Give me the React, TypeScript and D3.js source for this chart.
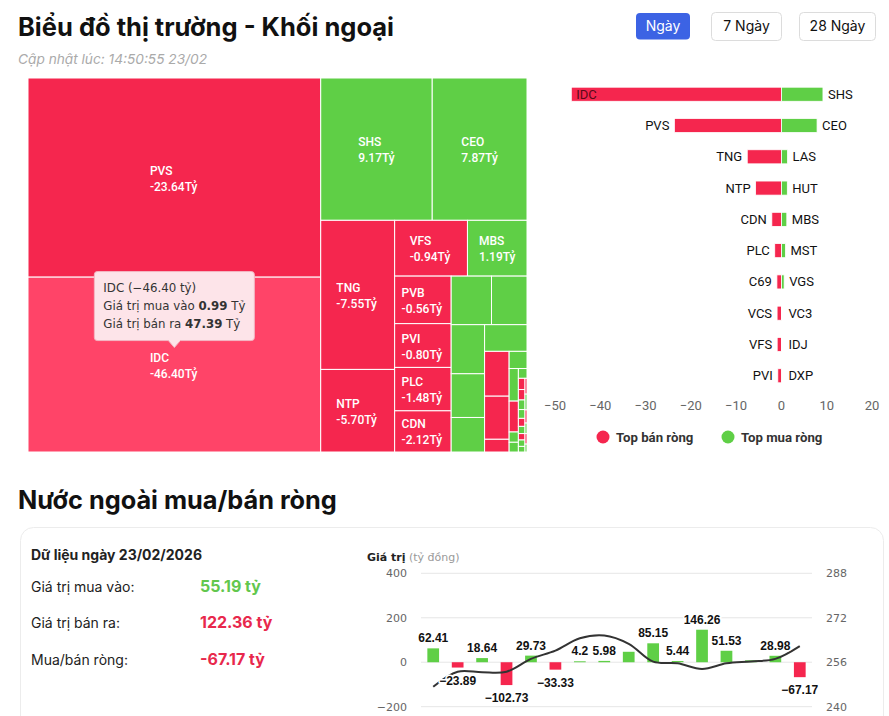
import React from "react";
import * as d3 from "d3";

// ---- treemap data (size = buy + sell, colour = net) ----
const treeNames = ["PVS", "IDC", "SHS", "CEO", "TNG", "NTP", "VFS", "MBS", "PVB", "PVI", "PLC", "CDN", "LAS", "HUT", "MST", "BVS", "VGS", "TIG", "C69", "VCS", "SHN", "VC3", "IDJ", "L14", "DXP", "HLD", "CAP", "PVC", "NVB", "TVD", "DTD", "APS", "VIG", "BCC", "TAR", "HHC", "SCG", "PSD", "AMV", "DL1", "KSV", "VNR"];
const treeTotals = [55.1, 48.38, 15.0, 12.75, 10.42, 5.77, 3.84, 3.14, 2.54, 2.34, 2.32, 2.2, 1.85, 1.63, 1.55, 1.38, 1.09, 1.07, 1.04, 1.0, 0.295, 0.29, 0.285, 0.27, 0.09, 0.085, 0.08, 0.07, 0.065, 0.06, 0.055, 0.05, 0.045, 0.04, 0.04, 0.035, 0.03, 0.03, 0.025, 0.02, 0.02, 0.015];
const treeNets = [-23.64, -46.4, 9.17, 7.87, -7.55, -5.7, -0.94, 1.19, -0.56, -0.8, -1.48, -2.12, 1.35, 1.3, 0.9, 0.7, 0.6, 0.5, -1.0, -0.96, -0.2, 0.1, 0.05, -0.15, 0.03, 0.02, 0.04, -0.03, -0.02, 0.03, 0.02, -0.02, 0.02, -0.01, 0.02, 0.01, -0.01, 0.01, -0.01, 0.01, -0.01, 0.01];
const hoveredTicker = "IDC";
const tooltipLines = ["IDC (−46.40 tỷ)", "Giá trị mua vào ", "0.99", " Tỷ", "Giá trị bán ra ", "47.39", " Tỷ"];

// ---- top net sell / buy ----
const sellNames = ["IDC", "PVS", "TNG", "NTP", "CDN", "PLC", "C69", "VCS", "VFS", "PVI"];
const sellValues = [-46.4, -23.64, -7.55, -5.7, -2.12, -1.48, -1.0, -0.96, -0.94, -0.8];
const buyNames = ["SHS", "CEO", "LAS", "HUT", "MBS", "MST", "VGS", "VC3", "IDJ", "DXP"];
const buyValues = [9.17, 7.87, 1.35, 1.3, 1.19, 0.9, 0.6, 0.1, 0.05, 0.03];

// ---- daily net flow ----
const flowDays = ["27/01", "28/01", "29/01", "30/01", "02/02", "03/02", "04/02", "05/02", "06/02", "09/02", "10/02", "11/02", "12/02", "13/02", "20/02", "23/02"];
const flowValues = [62.41, -23.89, 18.64, -102.73, 29.73, -33.33, 4.2, 5.98, 47, 85.15, 5.44, 146.26, 51.53, 8.5, 28.98, -67.17];
const flowLabelShown = [true, true, true, true, true, true, true, true, false, true, true, true, true, false, true, true];
const indexValues = [247.2, 252.6, 252.4, 252.6, 257.2, 260.2, 264.6, 265.6, 262.6, 256.2, 255.6, 253.6, 255.6, 256.3, 257.2, 261.8];
const leftTicks = [-200, 0, 200, 400];
const rightTicks = [240, 256, 272, 288];

const RED = "#f5264e";
const GREEN = "#5fcf46";
const SANS = "Inter, 'Noto Sans', sans-serif";
const HC = "'DejaVu Sans', Verdana, sans-serif";
const ARIAL = "'Liberation Sans', Arial, sans-serif";

// squarified layout that flips direction after every row
function tileAlternating(parent: any, x0: number, y0: number, x1: number, y1: number) {
  const nodes = parent.children;
  let remaining = parent.value;
  let dir = 0;
  let i = 0;
  while (i < nodes.length) {
    const dx = x1 - x0, dy = y1 - y0;
    const k = (dx * dy) / remaining;
    const side = dir === 0 ? dy : dx;
    const row = [nodes[i]];
    let sum = nodes[i].value;
    i++;
    while (i < nodes.length) {
      const prev = row[row.length - 1].value * k;
      const lT = (sum * k) / side;
      const lO = prev / lT;
      const lR = Math.max(lT / lO, lO / lT);
      const next = sum + nodes[i].value;
      const nT = (next * k) / side;
      const nO = prev / nT;
      const nR = Math.max(nT / nO, nO / nT);
      if (nR > lR) break;
      row.push(nodes[i]);
      sum = next;
      i++;
    }
    const group: any = { children: row, value: sum };
    const t = i >= nodes.length ? (dir === 0 ? dx : dy) : (sum * k) / side;
    if (dir === 0) {
      d3.treemapSlice(group, x0, y0, x0 + t, y1);
      x0 += t;
    } else {
      d3.treemapDice(group, x0, y0, x1, y0 + t);
      y0 += t;
    }
    remaining -= sum;
    dir = 1 - dir;
  }
}

const Treemap = () => {
  const data = { children: treeNames.map((n, i) => ({ name: n, total: treeTotals[i], net: treeNets[i] })) };
  const root = d3
    .hierarchy<any>(data)
    .sum((d) => d.total || 0)
    .sort((a, b) => (b.value || 0) - (a.value || 0));
  d3.treemap<any>().tile(tileAlternating as any).size([499, 374])(root);
  const leaves = root.leaves() as any[];
  const hovered = leaves.find((l) => l.data.name === hoveredTicker);
  const hx = hovered ? (hovered.x0 + hovered.x1) / 2 : 0;
  const hy = hovered ? (hovered.y0 + hovered.y1) / 2 : 0;
  return (
    <g transform="translate(28,78)">
      {leaves.map((l) => {
        const w = l.x1 - l.x0, h = l.y1 - l.y0;
        const fill = l.data.name === hoveredTicker ? "#ff4468" : l.data.net < 0 ? RED : GREEN;
        const val = `${l.data.net.toFixed(2)}Tỷ`;
        const cx = (l.x0 + l.x1) / 2, cy = (l.y0 + l.y1) / 2;
        const lx = cx - (val.length * 6.1) / 2;
        return (
          <g key={l.data.name}>
            <rect x={l.x0} y={l.y0} width={w} height={h} fill={fill} stroke="#fff" strokeWidth={1} />
            {w > 50 && h > 38 && (
              <text x={lx} fill="#fff" fontFamily="Roboto, sans-serif" fontSize={12} fontWeight={500}>
                <tspan x={lx} y={cy - 3}>{l.data.name}</tspan>
                <tspan x={lx} y={cy + 13}>{val}</tspan>
              </text>
            )}
          </g>
        );
      })}
      {hovered && (
        <g transform={`translate(${hx - 1},${hy - 9})`}>
          <path
            d="M-76,-84 h154 a3,3 0 0 1 3,3 v63 a3,3 0 0 1 -3,3 h-71 l-6,7 l-6,-7 h-71 a3,3 0 0 1 -3,-3 v-63 a3,3 0 0 1 3,-3 z"
            fill="#fde4e9"
            stroke="#f3b7c3"
            strokeWidth={1}
          />
          <g fontFamily={HC} fontSize={11.8} fill="#333">
            <text x={-70} y={-64}>{tooltipLines[0]}</text>
            <text x={-70} y={-46}>
              {tooltipLines[1]}
              <tspan fontWeight="bold">{tooltipLines[2]}</tspan>
              {tooltipLines[3]}
            </text>
            <text x={-70} y={-28}>
              {tooltipLines[4]}
              <tspan fontWeight="bold">{tooltipLines[5]}</tspan>
              {tooltipLines[6]}
            </text>
          </g>
        </g>
      )}
    </g>
  );
};

const TopBars = () => {
  const x = d3.scaleLinear().domain([-50, 20]).range([555, 872]);
  const y = d3.scaleBand<number>().domain(d3.range(sellNames.length)).range([70, 400]).padding(0.55);
  const bw = y.bandwidth();
  const x0 = x(0);
  return (
    <g fontFamily="Roboto, sans-serif" fontSize={13}>
      {sellValues.map((v, i) => {
        const yy = y(i)!;
        const xs = x(v);
        const inside = xs - 32 < x.range()[0];
        return (
          <g key={"s" + i}>
            <rect x={xs} y={yy} width={x0 - xs} height={bw} fill={RED} stroke="#fff" strokeWidth={0.8} />
            <text
              x={inside ? xs + 5 : xs - 5}
              y={yy + bw / 2 + 4.5}
              textAnchor={inside ? "start" : "end"}
              fill={inside ? "#5a0a18" : "#111"}
            >
              {sellNames[i]}
            </text>
          </g>
        );
      })}
      {buyValues.map((v, i) => {
        const yy = y(i)!;
        const xe = x(v);
        return (
          <g key={"b" + i}>
            <rect x={x0} y={yy} width={xe - x0} height={bw} fill={GREEN} stroke="#fff" strokeWidth={0.8} />
            <text x={Math.max(xe, x0 + 2) + 5} y={yy + bw / 2 + 4.5} fill="#111">
              {buyNames[i]}
            </text>
          </g>
        );
      })}
      {x.ticks(7).map((t) => (
        <text key={t} x={x(t)} y={410} textAnchor="middle" fill="#666">
          {d3.format("d")(t)}
        </text>
      ))}
      <g fontWeight="bold" fontSize={13.2} fill="#333">
        <circle cx={603} cy={437} r={6.5} fill={RED} />
        <text x={616} y={441.5}>Top bán ròng</text>
        <circle cx={728} cy={437} r={6.5} fill={GREEN} />
        <text x={741} y={441.5}>Top mua ròng</text>
      </g>
    </g>
  );
};

const FlowChart = () => {
  const x = d3.scaleBand<string>().domain(flowDays).range([421, 812]).paddingInner(0.52).paddingOuter(0.26);
  const y = d3.scaleLinear().domain([-200, 400]).range([706.7, 573.3]);
  const y2 = d3.scaleLinear().domain([240, 288]).range([706.7, 573.3]);
  const bw = x.bandwidth();
  const line = d3
    .line<number>()
    .x((_, i) => x(flowDays[i])! + bw / 2)
    .y((d) => y2(d))
    .curve(d3.curveCatmullRom.alpha(0.5));
  const fmt = (v: number) => (v < 0 ? "−" + Math.abs(v) : String(v));
  return (
    <g fontFamily={HC}>
      <text x={367} y={561} fontSize={11} fill="#222">
        <tspan fontWeight="bold">Giá trị</tspan>
        <tspan fill="#999"> (tỷ đồng)</tspan>
      </text>
      {leftTicks.map((t) => (
        <g key={t}>
          <line x1={421} x2={812} y1={y(t)} y2={y(t)} stroke="#e6e6e6" />
          <text x={407} y={y(t) + 4} textAnchor="end" fontSize={11} fill="#666">
            {t < 0 ? "−" + Math.abs(t) : t}
          </text>
        </g>
      ))}
      {rightTicks.map((t) => (
        <text key={t} x={826} y={y2(t) + 4} fontSize={11} fill="#666">
          {t}
        </text>
      ))}
      {flowValues.map((v, i) => (
        <rect
          key={i}
          x={x(flowDays[i])}
          y={Math.min(y(v), y(0))}
          width={bw}
          height={Math.abs(y(v) - y(0))}
          fill={v < 0 ? RED : GREEN}
        />
      ))}
      <path d={line(indexValues) || ""} fill="none" stroke="#333" strokeWidth={2} />
      {flowValues.map((v, i) =>
        flowLabelShown[i] ? (
          <text
            key={"l" + i}
            x={x(flowDays[i])! + bw / 2}
            y={v >= 0 ? y(v) - 6 : y(v) + 17}
            textAnchor="middle"
            fontFamily={ARIAL}
            fontSize={12}
            fontWeight="bold"
            fill="#111"
            stroke="#fff"
            strokeWidth={3}
            paintOrder="stroke"
          >
            {fmt(v)}
          </text>
        ) : null
      )}
    </g>
  );
};

export default function App() {
  const buttons = [
    { label: "Ngày", x: 636, w: 54, active: true },
    { label: "7 Ngày", x: 711.5, w: 70, active: false },
    { label: "28 Ngày", x: 799.5, w: 76, active: false },
  ];
  return (
    <svg width={889} height={716} style={{ position: "absolute", left: 0, top: 0, display: "block", background: "#fff" }}>
      <text x={18} y={36} fontFamily={SANS} fontSize={25.5} fontWeight={700} fill="#111">
        Biểu đồ thị trường - Khối ngoại
      </text>
      <text x={18} y={64} fontFamily={SANS} fontSize={13.7} fontStyle="italic" fill="#aaa">
        Cập nhật lúc: 14:50:55 23/02
      </text>
      {buttons.map((b) => (
        <g key={b.label}>
          <rect
            x={b.x}
            y={b.active ? 13 : 12.5}
            width={b.w}
            height={b.active ? 26.5 : 28}
            rx={4}
            fill={b.active ? "#3c63e4" : "#fff"}
            stroke={b.active ? "none" : "#dcdcdc"}
          />
          <text x={b.x + b.w / 2} y={31} textAnchor="middle" fontFamily={SANS} fontSize={14} fill={b.active ? "#fff" : "#111"}>
            {b.label}
          </text>
        </g>
      ))}
      <Treemap />
      <TopBars />

      <text x={18} y={509} fontFamily={SANS} fontSize={25.3} fontWeight={700} fill="#111">
        Nước ngoài mua/bán ròng
      </text>
      <rect x={20.5} y={527.5} width={863} height={220} rx={13} fill="#fff" stroke="#ececec" />
      <g fontFamily={SANS} fill="#222">
        <text x={31} y={560} fontSize={14} fontWeight={700}>Dữ liệu ngày 23/02/2026</text>
        <text x={31} y={592} fontSize={14}>Giá trị mua vào:</text>
        <text x={200} y={592} fontSize={16} fontWeight={700} fill="#62c74d">55.19 tỷ</text>
        <text x={31} y={628} fontSize={14}>Giá trị bán ra:</text>
        <text x={200} y={628} fontSize={16} fontWeight={700} fill="#e8284c">122.36 tỷ</text>
        <text x={31} y={665} fontSize={14}>Mua/bán ròng:</text>
        <text x={200} y={665} fontSize={16} fontWeight={700} fill="#e8284c">-67.17 tỷ</text>
      </g>
      <FlowChart />
    </svg>
  );
}
